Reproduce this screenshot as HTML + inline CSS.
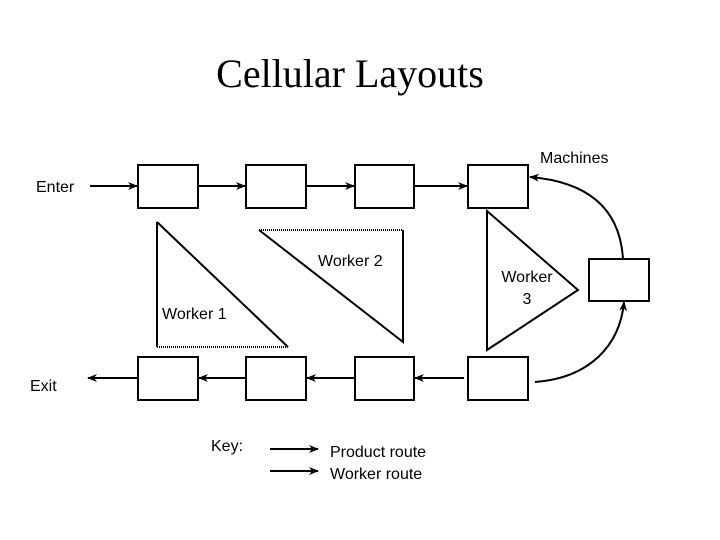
<!DOCTYPE html>
<html><head><meta charset="utf-8"><style>
html,body{margin:0;padding:0;background:#fff;}
svg{display:block;}
text{font-family:"Liberation Sans",sans-serif;font-size:16px;fill:#000;}
</style></head><body>
<svg width="720" height="540" viewBox="0 0 720 540" xmlns="http://www.w3.org/2000/svg">
<defs>
<marker id="a" markerWidth="10" markerHeight="8" refX="9" refY="4" orient="auto" markerUnits="userSpaceOnUse">
<path d="M0,0 L10,4 L0,8 L3,4 Z" fill="#000"/></marker>
</defs>
<text x="350" y="87" text-anchor="middle" style="font-family:'Liberation Serif',serif;font-size:40px">Cellular Layouts</text>
<g fill="#fff" stroke="#000" stroke-width="2">
<rect x="138" y="165" width="60" height="43"/>
<rect x="246" y="165" width="60" height="43"/>
<rect x="355" y="165" width="59" height="43"/>
<rect x="468" y="165" width="60" height="43"/>
<rect x="138" y="357" width="60" height="43"/>
<rect x="246" y="357" width="60" height="43"/>
<rect x="355" y="357" width="59" height="43"/>
<rect x="468" y="357" width="60" height="43"/>
<rect x="589" y="259" width="60" height="42"/>
</g>
<g stroke="#000" stroke-width="2" fill="none">
<line x1="90" y1="186" x2="137" y2="186" marker-end="url(#a)"/>
<line x1="198" y1="186" x2="245" y2="186" marker-end="url(#a)"/>
<line x1="306" y1="186" x2="354" y2="186" marker-end="url(#a)"/>
<line x1="414" y1="186" x2="467" y2="186" marker-end="url(#a)"/>
<line x1="464" y1="378" x2="415" y2="378" marker-end="url(#a)"/>
<line x1="355" y1="378" x2="307" y2="378" marker-end="url(#a)"/>
<line x1="246" y1="378" x2="199" y2="378" marker-end="url(#a)"/>
<line x1="138" y1="378" x2="88" y2="378" marker-end="url(#a)"/>
<path d="M623,259 C620,210 590,182 530,177" marker-end="url(#a)"/>
<path d="M535,382 C590,378 620,345 624,302" marker-end="url(#a)"/>
<path d="M157,222 L157,347 M157,222 L288,347"/>
<path d="M259,230 L403,342 L403,230"/>
<path d="M487,211 L487,350 L578,290 Z"/>
<line x1="270" y1="449" x2="318" y2="449" marker-end="url(#a)"/>
<line x1="270" y1="471" x2="318" y2="471" marker-end="url(#a)"/>
</g>
<g stroke="#000" stroke-width="2" stroke-dasharray="1,1" fill="none">
<line x1="157" y1="347" x2="288" y2="347"/>
<line x1="259" y1="230" x2="403" y2="230"/>
</g>
<text x="540" y="163">Machines</text>
<text x="36" y="192">Enter</text>
<text x="30" y="391">Exit</text>
<text x="318" y="266">Worker 2</text>
<text x="162" y="319">Worker 1</text>
<text x="527" y="282" text-anchor="middle">Worker</text>
<text x="527" y="304" text-anchor="middle">3</text>
<text x="211" y="451">Key:</text>
<text x="330" y="457">Product route</text>
<text x="330" y="479">Worker route</text>
</svg>
</body></html>
